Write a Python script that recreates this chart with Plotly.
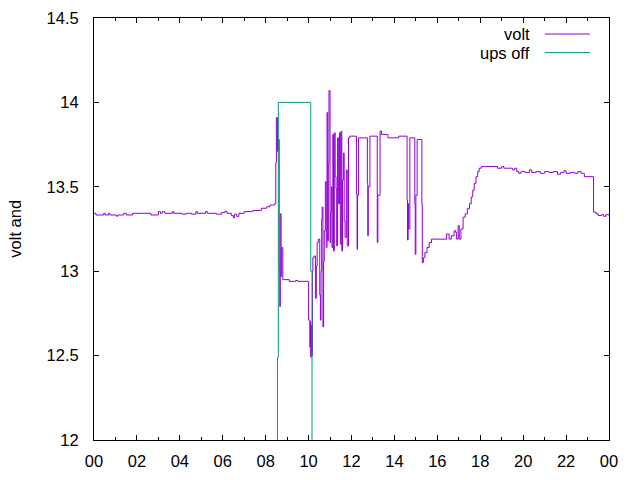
import plotly.graph_objects as go

# ---- data ----
volt_hours = [
    0.00, 0.09, 0.45, 0.52, 0.68, 0.74, 1.05, 1.12, 1.38, 1.50, 1.80, 2.65, 3.00, 3.10, 3.18, 3.30,
    3.65, 3.72, 4.10, 4.30, 4.55, 4.75, 4.82, 5.20, 5.28, 5.70, 5.95, 6.10, 6.20, 6.40, 6.49, 6.55,
    6.65, 6.75, 7.00, 7.40, 7.80, 8.05, 8.20, 8.42,
    8.47, 8.50, 8.55, 8.60, 8.63, 8.66, 8.68, 8.72, 8.75, 8.80, 9.10, 9.40, 9.50,
    10.00, 10.06, 10.08, 10.10, 10.12, 10.14, 10.18, 10.20, 10.25, 10.32, 10.36, 10.40, 10.45,
    10.52, 10.55, 10.58, 10.61, 10.63, 10.67, 10.70, 10.73, 10.78, 10.82, 10.86, 10.89, 10.92,
    10.95, 11.00, 11.03, 11.06, 11.09, 11.13, 11.16, 11.20, 11.24, 11.28, 11.31, 11.35,
    11.40, 11.44, 11.48, 11.52, 11.55, 11.58, 11.62, 11.66, 11.70, 11.76, 11.80, 11.86, 11.92,
    12.23, 12.26, 12.28, 12.33, 12.74, 12.76, 12.78, 12.86, 13.20, 13.23, 13.33, 13.40, 13.70,
    14.20, 14.59, 14.61, 14.64, 14.66, 14.72, 14.95, 14.97, 15.00, 15.06, 15.28, 15.30, 15.35,
    15.42, 15.52, 15.62, 15.73, 16.43, 16.55, 16.65, 16.78, 16.85, 16.90, 16.97, 17.02, 17.10,
    17.20, 17.30, 17.40, 17.50, 17.58, 17.65, 17.72, 17.80, 17.88, 17.95, 18.05, 18.20,
    18.80, 19.00, 19.10, 19.40, 19.50, 19.60, 19.70, 19.80, 19.90, 20.10, 20.30, 20.40, 20.60,
    20.80, 21.00, 21.20, 21.40, 21.60, 21.75, 21.90, 22.00, 22.20, 22.40, 22.55, 22.70, 22.85,
    23.28, 23.40, 23.50, 23.65, 23.75, 23.85, 24.00,
]
volt_values = [
    13.343, 13.333, 13.343, 13.333, 13.343, 13.333, 13.326, 13.333, 13.343, 13.333, 13.343, 13.333, 13.353, 13.343, 13.353, 13.343,
    13.353, 13.343, 13.338, 13.343, 13.338, 13.353, 13.343, 13.353, 13.343, 13.338, 13.348, 13.353, 13.343, 13.330, 13.317, 13.338,
    13.325, 13.343, 13.353, 13.360, 13.373, 13.382, 13.392, 13.400,
    13.64, 13.91, 13.71, 13.78, 13.00, 12.79, 13.34, 12.97, 13.14, 12.95, 12.94, 12.945, 12.94,
    12.71, 12.55, 12.70, 12.49, 12.68, 12.50, 13.00, 13.08, 13.09, 12.84, 13.03, 13.17, 13.19,
    12.86, 12.71, 13.00, 13.31, 13.38, 12.67, 13.06, 13.24, 13.53, 13.14, 13.94, 13.18, 13.64,
    14.07, 13.17, 13.35, 13.50, 13.14, 13.81, 13.12, 13.82, 13.56, 13.49, 13.15, 13.79,
    13.40, 13.82, 13.16, 13.83, 13.12, 13.54, 13.70, 13.30, 13.20, 13.60, 13.15, 13.79, 13.80,
    13.46, 13.13, 13.45, 13.79, 13.52, 13.21, 13.50, 13.80, 13.17, 13.45, 13.83, 13.81, 13.79,
    13.80, 13.42, 13.185, 13.40, 13.25, 13.79, 13.40, 13.10, 13.45, 13.78, 13.40, 13.05, 13.08,
    13.11, 13.14, 13.17, 13.19, 13.22, 13.19, 13.21, 13.24, 13.23, 13.19, 13.27, 13.19, 13.25,
    13.32, 13.34, 13.37, 13.40, 13.44, 13.48, 13.52, 13.56, 13.59, 13.61, 13.62, 13.62,
    13.61, 13.62, 13.61, 13.61, 13.60, 13.61, 13.59, 13.58, 13.59, 13.585, 13.60, 13.585, 13.59,
    13.58, 13.59, 13.585, 13.59, 13.575, 13.585, 13.595, 13.58, 13.585, 13.58, 13.59, 13.58, 13.56,
    13.35, 13.34, 13.33, 13.335, 13.325, 13.335, 13.33,
]

ups_hours = [0.0, 8.55, 8.59, 10.10, 10.16, 24.0]
ups_values = [11.0, 12.49, 14.0, 13.0, 11.0, 11.0]

x_tick_vals = [0, 2, 4, 6, 8, 10, 12, 14, 16, 18, 20, 22, 24]
x_tick_text = ["00", "02", "04", "06", "08", "10", "12", "14", "16", "18", "20", "22", "00"]
y_tick_vals = [12, 12.5, 13, 13.5, 14, 14.5]
y_tick_text = ["12", "12.5", "13", "13.5", "14", "14.5"]

series_names = ["volt", "ups off"]
series_colors = ["#9400d3", "#009e73"]

FONT = "Liberation Sans, Arial, sans-serif"
FS = 16.5

fig = go.Figure()
fig.add_trace(go.Scatter(x=volt_hours, y=volt_values, mode="lines", line_shape="hv",
                         line=dict(color=series_colors[0], width=1), name=series_names[0],
                         showlegend=False))
fig.add_trace(go.Scatter(x=ups_hours, y=ups_values, mode="lines", line_shape="hv",
                         line=dict(color=series_colors[1], width=1), name=series_names[1],
                         showlegend=False))

# gnuplot-style legend (text right, sample line to the right)
leg_y = [0.962, 0.918]
for i, name in enumerate(series_names):
    fig.add_annotation(x=0.851, y=leg_y[i], xref="paper", yref="paper", text=name,
                       showarrow=False, xanchor="right", yanchor="middle",
                       font=dict(family=FONT, size=FS, color="black"))
    fig.add_shape(type="line", xref="paper", yref="paper", x0=0.8755, x1=0.963,
                  y0=leg_y[i], y1=leg_y[i], line=dict(color=series_colors[i], width=1))

fig.add_annotation(x=-0.154, y=0.5, xref="paper", yref="paper", text="volt and",
                   textangle=-90, showarrow=False, xanchor="center", yanchor="middle",
                   font=dict(family=FONT, size=FS, color="black"))

fig.update_layout(
    width=640, height=480,
    margin=dict(l=94, r=31, t=18, b=40, autoexpand=False),
    paper_bgcolor="white", plot_bgcolor="white",
    font=dict(family=FONT, size=FS, color="black"),
    showlegend=False,
)
fig.update_xaxes(range=[0, 24], tickmode="array", tickvals=x_tick_vals, ticktext=x_tick_text,
                 ticks="inside", ticklen=5, tickwidth=1, tickcolor="black",
                 showline=True, linecolor="black", linewidth=1, mirror="ticks",
                 showgrid=False, zeroline=False, ticklabelstandoff=6,
                 minor=dict(dtick=1, tick0=0, ticks="inside", ticklen=3, tickcolor="black", showgrid=False))
fig.update_yaxes(range=[12, 14.5], tickmode="array", tickvals=y_tick_vals, ticktext=y_tick_text,
                 ticks="inside", ticklen=5, tickwidth=1, tickcolor="black",
                 showline=True, linecolor="black", linewidth=1, mirror="ticks",
                 showgrid=False, zeroline=False, ticklabelstandoff=11)

fig.write_html("out.html")
